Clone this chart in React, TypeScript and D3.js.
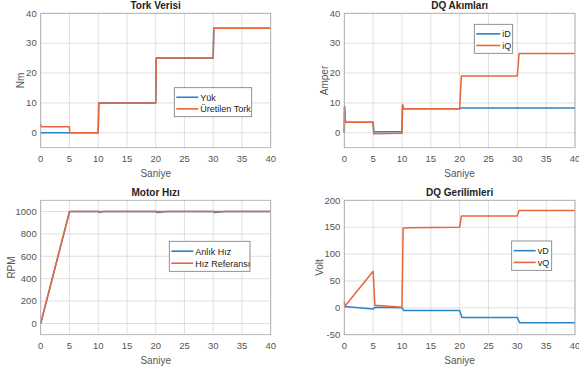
import React from "react";
import * as d3 from "d3";

// ---- data ----
const xTicks = [0, 5, 10, 15, 20, 25, 30, 35, 40];

const yukT = [0, 5, 10, 10.1, 20, 20.1, 30, 30.1, 40];
const yukV = [0, 0, 0, 10, 10, 25, 25, 35, 35];
const torkT = [0, 0.1, 5, 5.05, 10, 10.1, 20, 20.1, 30, 30.1, 40];
const torkV = [3, 2, 2, 0, 0, 10, 10, 25, 25, 35, 35];
const torkTicks = [0, 10, 20, 30, 40];

const iDT = [0, 0.05, 0.2, 5, 5.1, 10, 10.1, 10.3, 20, 20.2, 40];
const iDV = [0, 8.5, 3.5, 3.5, 0.3, 0.3, 9, 8, 8, 8.3, 8.3];
const iQT = [0, 0.05, 0.2, 5, 5.1, 10, 10.1, 10.3, 20, 20.3, 30, 30.3, 40];
const iQV = [0, 9, 3.5, 3.5, -0.3, -0.2, 9.5, 8, 8, 19, 19, 26.5, 26.5];
const akimTicks = [0, 10, 20, 30, 40];

const hizT = [0, 5, 5.3, 10, 10.2, 11, 20, 20.2, 22, 30, 30.2, 32, 40];
const hizV = [0, 995, 1000, 1000, 993, 1000, 1000, 992, 1000, 1000, 992, 1000, 1000];
const refT = [0, 5, 40];
const refV = [0, 1000, 1000];
const hizTicks = [0, 200, 400, 600, 800, 1000];

const vDT = [0, 0.5, 5, 5.3, 10, 10.3, 20, 20.4, 30, 30.4, 40];
const vDV = [2, 2, -2, 1, 0, -5, -5, -18, -18, -28, -28];
const vQT = [0, 0.1, 5, 5.3, 10, 10.2, 11, 20, 20.3, 30, 30.3, 40];
const vQV = [12, 3, 68, 5, 1, 148, 149, 150, 171, 171, 181, 181];
const gerTicks = [-50, 0, 50, 100, 150, 200];

const BLUE = "#2A84C8";
const ORANGE = "#E6673A";
const FONT = "'Liberation Sans', Arial, sans-serif";

type Series = { t: number[]; v: number[]; color: string; name: string };

type PanelProps = {
  left: number; right: number; top: number; bottom: number;
  yDomain: [number, number]; yTicks: number[];
  title: string; yLabel: string; yLabelX: number;
  series: Series[];
  legend: { x: number; y: number; w: number; h: number; lineW: number };
};

function Panel(p: PanelProps) {
  const x = d3.scaleLinear().domain([0, 40]).range([p.left, p.right]);
  const y = d3.scaleLinear().domain(p.yDomain).range([p.bottom, p.top]);
  const line = (s: Series) =>
    d3.line<number>().x((_, i) => x(s.t[i])).y((d) => y(d))(s.v) || "";
  const cy = (p.top + p.bottom) / 2;
  const cx = (p.left + p.right) / 2;
  return (
    <g>
      <rect x={p.left} y={p.top} width={p.right - p.left} height={p.bottom - p.top} fill="#fff" />
      {xTicks.map((t) => (
        <line key={"gx" + t} x1={x(t)} x2={x(t)} y1={p.top} y2={p.bottom} stroke="#d8d8d8" strokeWidth={0.8} />
      ))}
      {p.yTicks.map((t) => (
        <line key={"gy" + t} x1={p.left} x2={p.right} y1={y(t)} y2={y(t)} stroke="#d8d8d8" strokeWidth={0.8} />
      ))}
      {p.series.map((s) => (
        <path key={s.name} d={line(s)} fill="none" stroke={s.color} strokeWidth={1.5} strokeLinejoin="round" />
      ))}
      <rect x={p.left} y={p.top} width={p.right - p.left} height={p.bottom - p.top} fill="none" stroke="#a8a8a8" strokeWidth={0.8} />
      {xTicks.map((t) => (
        <text key={"tx" + t} x={x(t)} y={p.bottom + 14.5} fontSize={9.5} fill="#555" textAnchor="middle" fontFamily={FONT}>{t}</text>
      ))}
      {p.yTicks.map((t) => (
        <text key={"ty" + t} x={p.left - 4} y={y(t) + 3.3} fontSize={9.5} fill="#555" textAnchor="end" fontFamily={FONT}>{t}</text>
      ))}
      <text x={cx} y={p.top - 4} fontSize={10} fontWeight="bold" fill="#222" textAnchor="middle" fontFamily={FONT}>{p.title}</text>
      <text x={cx} y={p.bottom + 29.5} fontSize={10} fill="#555" textAnchor="middle" fontFamily={FONT}>Saniye</text>
      <text transform={`translate(${p.yLabelX},${cy}) rotate(-90)`} fontSize={10} fill="#555" textAnchor="middle" dy="0.35em" fontFamily={FONT}>{p.yLabel}</text>
      <g>
        <rect x={p.legend.x} y={p.legend.y} width={p.legend.w} height={p.legend.h} fill="#fff" stroke="#777" strokeWidth={0.8} />
        {p.series.map((s, i) => {
          const ry = p.legend.y + p.legend.h * (i === 0 ? 0.33 : 0.73);
          return (
            <g key={"lg" + s.name}>
              <line x1={p.legend.x + 2} x2={p.legend.x + 2 + p.legend.lineW} y1={ry} y2={ry} stroke={s.color} strokeWidth={1.6} />
              <text x={p.legend.x + 4 + p.legend.lineW} y={ry + 3.3} fontSize={9} fill="#222" fontFamily={FONT}>{s.name}</text>
            </g>
          );
        })}
      </g>
    </g>
  );
}

export default function App() {
  return (
    <svg width={579} height={374} style={{ position: "absolute", left: 0, top: 0, background: "#fff" }}>
      <Panel left={40.7} right={270.7} top={13.3} bottom={147.7} yDomain={[-5, 40]} yTicks={torkTicks}
        title="Tork Verisi" yLabel="Nm" yLabelX={20.5}
        series={[{ t: yukT, v: yukV, color: BLUE, name: "Yük" }, { t: torkT, v: torkV, color: ORANGE, name: "Üretilen Tork" }]}
        legend={{ x: 174.3, y: 87.7, w: 77.4, h: 29, lineW: 22 }} />
      <Panel left={344.3} right={575} top={13.3} bottom={147.7} yDomain={[-5, 40]} yTicks={akimTicks}
        title="DQ Akımları" yLabel="Amper" yLabelX={324}
        series={[{ t: iDT, v: iDV, color: BLUE, name: "iD" }, { t: iQT, v: iQV, color: ORANGE, name: "iQ" }]}
        legend={{ x: 474.3, y: 24.3, w: 38.4, h: 29, lineW: 24 }} />
      <Panel left={40.7} right={270.7} top={200.3} bottom={334.7} yDomain={[-100, 1100]} yTicks={hizTicks}
        title="Motor Hızı" yLabel="RPM" yLabelX={11.5}
        series={[{ t: hizT, v: hizV, color: BLUE, name: "Anlık Hız" }, { t: refT, v: refV, color: ORANGE, name: "Hız Referansı" }]}
        legend={{ x: 169.3, y: 241.3, w: 80.7, h: 30, lineW: 22 }} />
      <Panel left={344.3} right={575} top={200.3} bottom={334.7} yDomain={[-50, 200]} yTicks={gerTicks}
        title="DQ Gerilimleri" yLabel="Volt" yLabelX={319}
        series={[{ t: vDT, v: vDV, color: BLUE, name: "vD" }, { t: vQT, v: vQV, color: ORANGE, name: "vQ" }]}
        legend={{ x: 511.7, y: 241, w: 40, h: 29.3, lineW: 22 }} />
    </svg>
  );
}
